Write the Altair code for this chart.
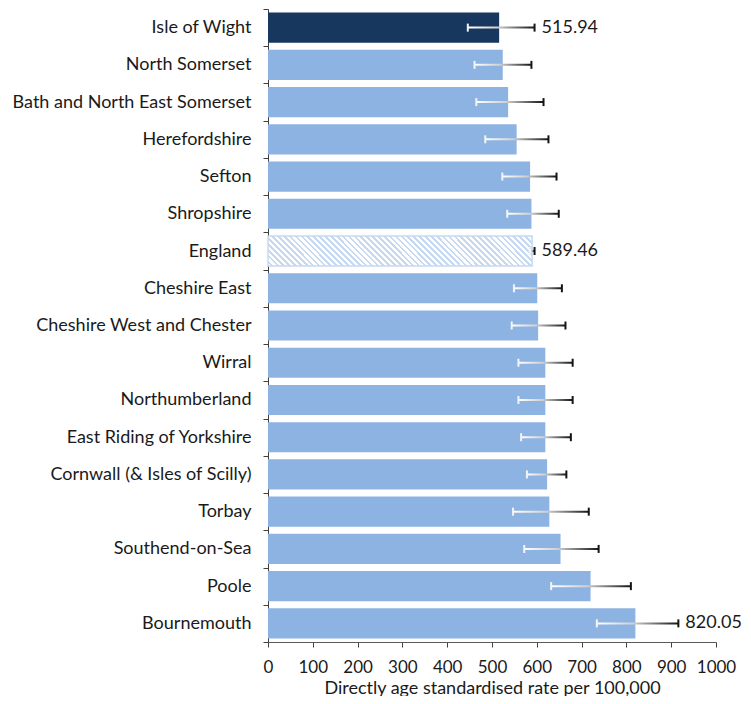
import altair as alt
import pandas as pd

# ---- data ----
areas = [
    "Isle of Wight", "North Somerset", "Bath and North East Somerset",
    "Herefordshire", "Sefton", "Shropshire", "England", "Cheshire East",
    "Cheshire West and Chester", "Wirral", "Northumberland",
    "East Riding of Yorkshire", "Cornwall (& Isles of Scilly)", "Torbay",
    "Southend-on-Sea", "Poole", "Bournemouth",
]
rates = [515.94, 524, 536, 555, 585, 588, 589.46, 601, 603, 619, 619, 619,
         623, 628, 653, 720, 820.05]
lower_ci = [446, 461, 465, 485, 523, 534, 584, 549, 544, 559, 559, 565,
            578, 547, 572, 632, 734]
upper_ci = [595, 588, 615, 626, 644, 649, 595, 656, 664, 680, 680, 676,
            666, 716, 738, 810, 916]
value_labels = ["515.94", "", "", "", "", "", "589.46", "", "", "", "", "",
                "", "", "", "", "820.05"]
kinds = ["selected"] + ["comparator"] * 5 + ["England"] + ["comparator"] * 10
x_ticks = [0, 100, 200, 300, 400, 500, 600, 700, 800, 900, 1000]

df = pd.DataFrame({
    "area": areas, "rate": rates, "lower": lower_ci, "upper": upper_ci,
    "label": value_labels, "kind": kinds,
})

FONT = "Lato"
W, H = 448, 633

# ---- styles ----
err_gradient = {
    "gradient": "linear", "x1": 0, "y1": 0, "x2": 1, "y2": 0,
    "stops": [
        {"offset": 0, "color": "#ffffff"},
        {"offset": 0.45, "color": "#cfcfcf"},
        {"offset": 1, "color": "#141414"},
    ],
}

# diagonal hatch for England bar, built as a striped linear gradient
stripe_col, gap_col = "#c6d9f1", "#ffffff"
n_stripes = 50
stops = []
for i in range(n_stripes):
    a = i / n_stripes
    b = (i + 0.55) / n_stripes
    c = (i + 1) / n_stripes
    stops += [
        {"offset": a, "color": gap_col},
        {"offset": b, "color": gap_col},
        {"offset": b, "color": stripe_col},
        {"offset": c, "color": stripe_col},
    ]
ratio = 30.0 / 264.0
span = (1 + ratio) / (1 + ratio * ratio)
hatch_gradient = {
    "gradient": "linear", "x1": 0, "y1": 1, "x2": span, "y2": 1 - span * ratio,
    "stops": stops,
}

x_axis = alt.Axis(
    values=x_ticks, format="d", labelOverlap=False, labelFlush=False,
    title="Directly age standardised rate per 100,000",
    grid=False, tickSize=5, labelPadding=12, titlePadding=4,
    domainColor="#595959", tickColor="#404040",
    labelFontSize=17, titleFontSize=18, labelFont=FONT, titleFont=FONT,
    labelColor="#1a1a1a", titleColor="#1a1a1a", titleFontWeight="normal",
)
x_scale = alt.Scale(domain=[0, 1000], nice=False, zero=True)

y_enc = alt.Y(
    "area:N", sort=areas,
    scale=alt.Scale(paddingInner=0, paddingOuter=0),
    axis=alt.Axis(
        title=None, tickBand="extent", tickSize=5, labelPadding=12,
        labelLimit=0, labelOverlap=False,
        domainColor="#404040", tickColor="#404040",
        labelFontSize=18, labelFont=FONT, labelColor="#1a1a1a",
    ),
)

base = alt.Chart(df)

bars = base.transform_filter(alt.datum.kind != "England").mark_bar(
    height={"band": 0.81}
).encode(
    x=alt.X("rate:Q", scale=x_scale, axis=x_axis),
    y=y_enc,
    color=alt.Color(
        "kind:N",
        scale=alt.Scale(domain=["selected", "comparator"],
                        range=["#17375e", "#8db3e2"]),
        legend=None,
    ),
)

england = base.transform_filter(alt.datum.kind == "England").mark_bar(
    height={"band": 0.81}, fill=hatch_gradient, stroke="#c6d9f1", strokeWidth=1.5
).encode(
    x=alt.X("rate:Q", scale=x_scale, axis=x_axis),
    y=y_enc,
)

err_line = base.mark_bar(height=2, fill=err_gradient).encode(
    x=alt.X("lower:Q", scale=x_scale, axis=x_axis),
    x2="upper:Q",
    y=y_enc,
)

cap_low = base.mark_tick(color="#f4f4f4", thickness=2, size=8, opacity=1).encode(
    x=alt.X("lower:Q", scale=x_scale, axis=x_axis),
    y=y_enc,
)
cap_high = base.mark_tick(color="#141414", thickness=2, size=8, opacity=1).encode(
    x=alt.X("upper:Q", scale=x_scale, axis=x_axis),
    y=y_enc,
)

labels = base.mark_text(
    align="left", baseline="middle", dx=7, fontSize=18, font=FONT, color="#1a1a1a"
).encode(
    x=alt.X("upper:Q", scale=x_scale, axis=x_axis),
    y=y_enc,
    text="label:N",
)

chart = alt.layer(bars, england, err_line, cap_low, cap_high, labels).properties(
    width=W, height=H,
    autosize=alt.AutoSizeParams(type="none"),
    padding={"left": 260, "top": 1, "right": 27, "bottom": 54},
    background="white",
).configure_view(stroke=None)

chart.save("out.html", embed_options={"renderer": "svg", "actions": False})
